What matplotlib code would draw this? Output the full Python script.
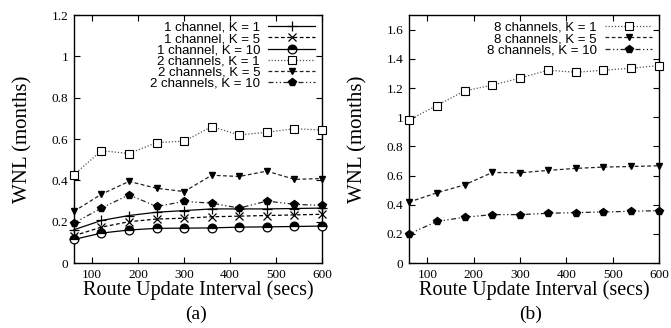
import numpy as np
import matplotlib
matplotlib.use("Agg")
import matplotlib.pyplot as plt

# ---------- data ----------
intervals = [60, 120, 180, 240, 300, 360, 420, 480, 540, 600]

# panel (a)
ch1_k1 = [0.161, 0.206, 0.230, 0.246, 0.254, 0.262, 0.262, 0.262, 0.264, 0.266]
ch1_k5 = [0.132, 0.174, 0.200, 0.213, 0.217, 0.224, 0.227, 0.230, 0.233, 0.236]
ch1_k10 = [0.114, 0.145, 0.160, 0.168, 0.169, 0.170, 0.174, 0.175, 0.177, 0.179]
ch2_k1 = [0.427, 0.544, 0.530, 0.583, 0.590, 0.660, 0.620, 0.633, 0.650, 0.644]
ch2_k5 = [0.250, 0.333, 0.395, 0.362, 0.346, 0.425, 0.419, 0.445, 0.405, 0.409]
ch2_k10 = [0.193, 0.266, 0.330, 0.274, 0.298, 0.290, 0.266, 0.300, 0.284, 0.279]

# panel (b)
ch8_k1 = [0.981, 1.080, 1.180, 1.220, 1.268, 1.322, 1.308, 1.322, 1.336, 1.354]
ch8_k5 = [0.418, 0.481, 0.536, 0.621, 0.619, 0.635, 0.649, 0.658, 0.662, 0.667]
ch8_k10 = [0.199, 0.285, 0.314, 0.332, 0.332, 0.341, 0.346, 0.350, 0.355, 0.359]

SERIF = "Liberation Serif"
SANS = "Liberation Sans"
ddot = (0, (4, 2, 1, 2, 1, 2))

sq = dict(ls=(0, (1, 1.5)), marker="s", ms=6, mew=0.8, color="#555555", mfc="white", mec="black")
tri = dict(ls=(0, (3, 2)), marker="v", ms=5, color="#222222", mfc="black", mec="black")
pent = dict(ls=ddot, marker="p", ms=5.5, color="#222222", mfc="black", mec="black")

series_a = [
    ("1 channel, K = 1", ch1_k1, dict(ls="-", marker="+", ms=7, mew=0.9, color="black")),
    ("1 channel, K = 5", ch1_k5, dict(ls=(0, (3, 2)), marker="x", ms=5.5, mew=0.9, color="black")),
    ("1 channel, K = 10", ch1_k10, dict(ls="-", marker="o", ms=6.3, mew=0.9, color="black",
                                        fillstyle="top", markerfacecolor="black",
                                        markerfacecoloralt="white")),
    ("2 channels, K = 1", ch2_k1, sq),
    ("2 channels, K = 5", ch2_k5, tri),
    ("2 channels, K = 10", ch2_k10, pent),
]

series_b = [
    ("8 channels, K = 1", ch8_k1, sq),
    ("8 channels, K = 5", ch8_k5, tri),
    ("8 channels, K = 10", ch8_k10, pent),
]

fig = plt.figure(figsize=(6.71, 3.28), dpi=100)
ax_a = fig.add_axes([0.110, 0.198, 0.370, 0.756])
ax_b = fig.add_axes([0.6095, 0.198, 0.3725, 0.756])


def style_axis(ax, ymax, yticks):
    ax.set_xlim(60, 600)
    ax.set_ylim(0, ymax)
    ax.set_xticks([100, 200, 300, 400, 500, 600])
    ax.set_yticks(yticks)
    ax.set_yticklabels([("%g" % t) for t in yticks])
    ax.tick_params(direction="in", top=True, right=True, length=4, width=0.8,
                   labelsize=9.5, pad=4)
    for lab in ax.get_xticklabels() + ax.get_yticklabels():
        lab.set_family(SERIF)
    for sp in ax.spines.values():
        sp.set_linewidth(1.0)
    ax.set_xlabel("Route Update Interval (secs)", family=SERIF, fontsize=14.5, labelpad=0)
    ax.set_ylabel("WNL (months)", family=SERIF, fontsize=15, labelpad=14)


for ax, series in ((ax_a, series_a), (ax_b, series_b)):
    for label, vals, kw in series:
        ax.plot(intervals, vals, lw=0.9, label=label, clip_on=False, zorder=3, **kw)
    ax.legend(loc="upper right", markerfirst=False, frameon=False,
              prop={"family": SANS, "size": 9.5}, handlelength=3.6,
              labelspacing=-0.08, handletextpad=0.6, borderaxespad=0.3,
              borderpad=0.2)

style_axis(ax_a, 1.2, [0, 0.2, 0.4, 0.6, 0.8, 1.0, 1.2])
style_axis(ax_b, 1.7, [0, 0.2, 0.4, 0.6, 0.8, 1.0, 1.2, 1.4, 1.6])

fig.text(0.292, 0.028, "(a)", family=SERIF, fontsize=14, ha="center")
fig.text(0.79, 0.028, "(b)", family=SERIF, fontsize=14, ha="center")

fig.savefig("out.png", dpi=100)
